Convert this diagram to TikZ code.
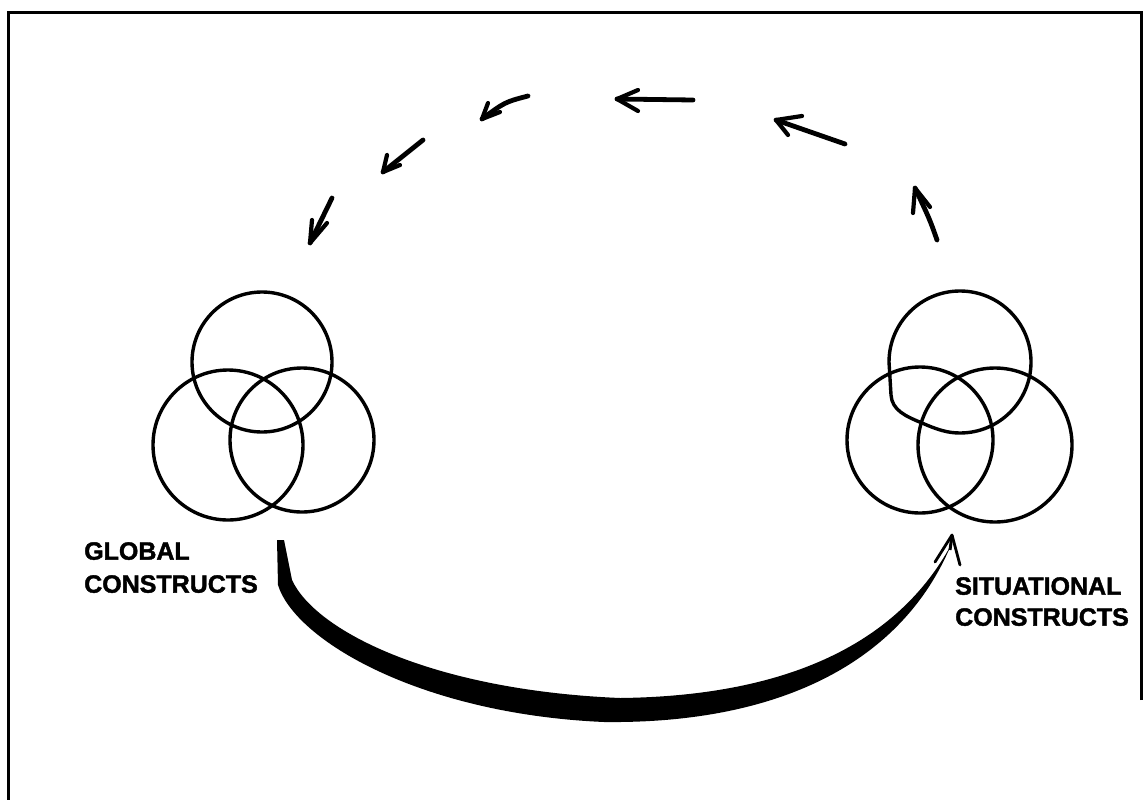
\documentclass[tikz,border=0pt]{standalone}
\usepackage{fontspec}
\setmainfont{Liberation Sans}
\newfontfamily\heavyfont[BoldFeatures={FakeBold=1.6}]{Liberation Sans}
\usetikzlibrary{arrows.meta}
\begin{document}
\begin{tikzpicture}[x=1pt,y=-1pt,
  ring/.style={circle, draw=black, line width=3.4pt, inner sep=0pt, outer sep=0pt},
  shaft/.style={line width=4.8pt, line cap=round, line join=round},
  barb/.style={line width=4.2pt, line cap=round, line join=round},
  lbl/.style={font=\heavyfont\bfseries\fontsize{25}{33}\selectfont, align=left, inner sep=0pt, anchor=north west}]
\useasboundingbox[fill=white] (0,0) rectangle (1147,800);
% frame
\coordinate (f1) at (1141,700);
\coordinate (f2) at (1141,13);
\coordinate (f3) at (8,13);
\coordinate (f4) at (8,800);
\draw[line width=3pt] (f1) -- (f2) -- (f3) -- (f4);

% global constructs
\node[ring, minimum size=140pt] (gtop) at (262,362) {};
\node[ring, minimum size=150pt] (gleft) at (228,445) {};
\node[ring, minimum size=144pt] (gright) at (302,440) {};

% situational constructs
\coordinate (stop) at (960,362);
\draw[line width=3.4pt, line join=round]
  (889,362) -- (891,395) .. controls (892,410) and (905,416) .. (922,423)
  .. controls (938,430) and (948,433) .. (960,433)
  arc[start angle=90, end angle=-180, radius=71];
\node[ring, minimum size=146pt] (sleft) at (920,440) {};
\node[ring, minimum size=154pt] (sright) at (995,445) {};

% labels
\node[lbl] (glbl) at (84,542) {GLOBAL\\CONSTRUCTS};
\node[lbl, font=\heavyfont\bfseries\fontsize{25}{31}\selectfont] (slbl) at (955,577) {SITUATIONAL\\CONSTRUCTS};

% thick crescent arrow from global to situational
\coordinate (gs) at (277,540);
\coordinate (se) at (952,535);
\fill[black] (gs) -- (278,585) .. controls (295,640) and (420,714) .. (604,722)
  .. controls (780,724) and (902,662) .. (951,545)
  .. controls (898,642) and (790,696) .. (620,698)
  .. controls (430,690) and (315,630) .. (292,580) -- (284,540) -- cycle;
\draw[line width=3pt] (950,550) -- (se);
\draw[line width=2.8pt, line cap=round, line join=round] (935,562) -- (se) -- (960,565);

% dashed return arrows
\coordinate (a1t) at (937,240); \coordinate (a1h) at (915,188);
\draw[shaft] (a1t) .. controls (930,220) .. (a1h);
\draw[barb] (913,213) -- (a1h) -- (930,207);

\coordinate (a2t) at (845,144); \coordinate (a2h) at (776,120);
\draw[shaft] (a2t) -- (a2h);
\draw[barb] (802,116) -- (a2h) -- (788,135);

\coordinate (a3t) at (693,100); \coordinate (a3h) at (617,99);
\draw[shaft] (a3t) -- (a3h);
\draw[barb] (638,90) -- (a3h) -- (638,111);

\coordinate (a4t) at (528,96); \coordinate (a4h) at (482,119);
\draw[shaft] (a4t) .. controls (505,102) .. (a4h);
\draw[barb] (488,103) -- (a4h) -- (500,112);

\coordinate (a5t) at (423,140); \coordinate (a5h) at (383,172);
\draw[shaft] (a5t) -- (a5h);
\draw[barb] (387,155) -- (a5h) -- (400,165);

\coordinate (a6t) at (332,198); \coordinate (a6h) at (310,243);
\draw[shaft] (a6t) -- (a6h);
\draw[barb] (312,220) -- (a6h) -- (327,223);
\end{tikzpicture}
\end{document}
